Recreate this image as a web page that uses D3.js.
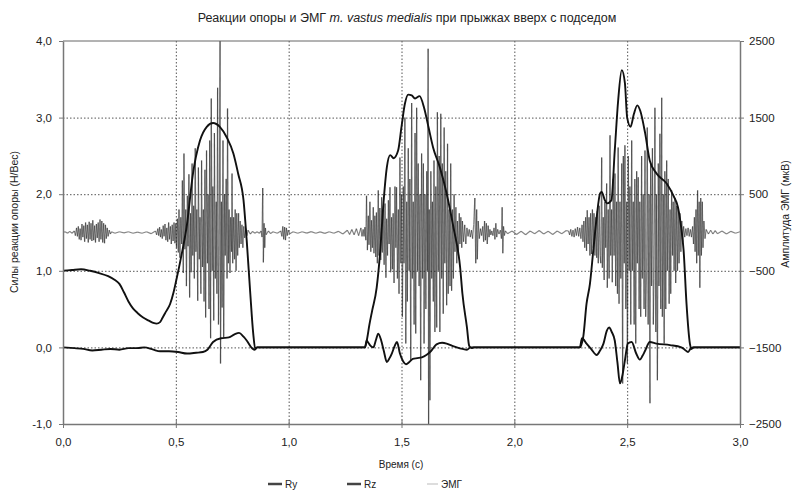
<!DOCTYPE html>
<html>
<head>
<meta charset="utf-8">
<script src="https://cdn.jsdelivr.net/npm/d3@7/dist/d3.min.js"></script>
<style>
  body { margin: 0; background: #fff; }
  text { font-family: "Liberation Sans", Arial, sans-serif; fill: #222; }
</style>
</head>
<body>
<svg id="chart" width="796" height="490"></svg>
<script>
// time (s), force (N/weight)
const ry = [
  [0.00,1.00],[0.04,1.01],[0.08,1.02],[0.12,1.00],[0.16,0.97],[0.20,0.93],[0.23,0.88],[0.25,0.83],
  [0.27,0.72],[0.29,0.60],[0.31,0.51],[0.33,0.45],[0.355,0.39],[0.38,0.35],[0.40,0.32],[0.415,0.31],
  [0.43,0.33],[0.44,0.38],[0.455,0.46],[0.475,0.57],[0.49,0.72],[0.50,0.85],[0.52,1.13],[0.55,1.62],
  [0.575,2.25],[0.607,2.70],[0.637,2.88],[0.665,2.93],[0.695,2.88],[0.726,2.74],[0.755,2.53],
  [0.776,2.27],[0.80,1.92],[0.814,1.40],[0.83,0.70],[0.843,0.18],[0.852,-0.02],[0.86,0.0],
  [1.338,0.0],[1.346,0.09],[1.358,0.30],[1.37,0.48],[1.39,0.78],[1.405,1.23],[1.42,1.88],[1.435,2.35],
  [1.45,2.51],[1.465,2.47],[1.485,2.57],[1.50,2.88],[1.515,3.18],[1.53,3.30],[1.545,3.29],[1.56,3.25],
  [1.58,3.28],[1.60,3.13],[1.62,2.87],[1.64,2.61],[1.67,2.35],[1.70,2.01],[1.73,1.57],[1.76,1.04],
  [1.77,0.70],[1.79,0.26],[1.80,0.02],[1.81,-0.01],[1.82,0.0],
  [2.29,0.0],[2.305,0.13],[2.32,0.57],[2.335,0.83],[2.35,1.27],[2.365,1.70],[2.38,2.01],[2.387,2.03],
  [2.40,1.93],[2.41,1.88],[2.43,1.92],[2.445,2.57],[2.46,3.22],[2.476,3.62],[2.49,3.45],[2.50,3.00],
  [2.515,2.88],[2.53,3.05],[2.545,3.16],[2.558,3.09],[2.58,2.79],[2.60,2.44],[2.63,2.27],[2.675,2.14],
  [2.705,1.98],[2.725,1.83],[2.74,1.55],[2.75,1.27],[2.763,0.57],[2.778,0.05],[2.785,-0.02],[2.795,0.0],
  [3.00,0.0]
];

const rz = [
  [0.00,0.0],[0.05,-0.01],[0.09,-0.02],[0.13,-0.04],[0.17,-0.03],[0.21,-0.02],[0.25,-0.03],[0.29,-0.01],
  [0.33,-0.01],[0.36,0.0],[0.40,-0.03],[0.43,-0.05],[0.47,-0.05],[0.51,-0.06],[0.55,-0.08],[0.59,-0.07],
  [0.62,-0.06],[0.64,-0.03],[0.665,0.07],[0.70,0.12],[0.735,0.13],[0.76,0.17],[0.78,0.19],[0.80,0.14],
  [0.814,0.09],[0.837,-0.01],[0.848,-0.03],[0.86,0.0],
  [1.338,0.0],[1.346,0.09],[1.353,0.06],[1.36,0.03],[1.375,0.0],[1.387,0.10],[1.397,0.18],[1.41,0.09],
  [1.422,-0.05],[1.435,-0.19],[1.447,-0.14],[1.457,-0.08],[1.47,0.02],[1.48,0.07],[1.493,-0.08],
  [1.507,-0.18],[1.52,-0.22],[1.535,-0.19],[1.55,-0.15],[1.57,-0.14],[1.59,-0.13],[1.61,-0.10],
  [1.63,-0.05],[1.655,0.04],[1.68,0.06],[1.70,0.05],[1.725,0.02],[1.745,0.0],[1.77,-0.02],[1.79,-0.03],
  [1.805,0.0],
  [2.29,0.0],[2.30,0.12],[2.32,0.05],[2.34,-0.02],[2.365,-0.10],[2.38,-0.04],[2.395,0.05],[2.41,0.22],
  [2.42,0.26],[2.432,0.20],[2.445,0.09],[2.457,-0.20],[2.468,-0.47],[2.48,-0.35],[2.49,-0.17],
  [2.503,0.05],[2.52,0.07],[2.54,-0.08],[2.556,-0.16],[2.568,-0.11],[2.58,-0.04],[2.60,0.07],[2.63,0.05],
  [2.69,0.03],[2.74,0.0],[2.755,-0.03],[2.77,-0.06],[2.78,-0.02],[2.79,0.0],[3.00,0.0]
];

// time (s), EMG (uV)
const emg = [
  [0,0],[0.01,10],[0.02,-10],[0.03,15],[0.04,-10],[0.05,20],
  [0.055,-40],[0.06,60],[0.064,-50],[0.068,80],[0.072,-90],[0.076,50],[0.08,-100],[0.084,110],[0.088,-60],
  [0.092,90],[0.096,-120],[0.10,130],[0.104,-80],[0.108,100],[0.112,-130],[0.116,140],[0.12,-90],
  [0.124,120],[0.128,-110],[0.132,160],[0.136,-100],[0.14,90],[0.144,-130],[0.148,110],[0.152,-70],
  [0.156,130],[0.16,-120],[0.164,170],[0.168,-90],[0.172,150],[0.176,-130],[0.18,120],[0.184,-140],
  [0.188,100],[0.192,-80],[0.196,60],[0.20,-50],[0.205,30],[0.21,-20],[0.215,10],
  [0.23,-10],[0.25,10],[0.27,-5],[0.29,10],[0.31,-10],[0.33,5],[0.35,-10],[0.37,10],[0.39,-15],[0.41,20],
  [0.415,-30],[0.42,50],[0.424,-40],[0.428,70],[0.432,-60],[0.436,40],[0.44,-80],[0.444,90],[0.448,-50],
  [0.452,110],[0.456,-100],[0.46,60],[0.464,-120],[0.468,130],[0.472,-90],[0.476,80],[0.48,-150],
  [0.484,100],[0.488,-110],[0.492,130],
  [0.496,-140],[0.500,120],[0.503,-200],[0.507,180],[0.511,-260],[0.514,300],[0.518,-330],[0.522,200],
  [0.526,-150],[0.529,680],[0.533,-530],[0.536,1030],[0.540,-220],[0.544,300],[0.547,-700],[0.551,480],
  [0.554,-180],[0.558,760],[0.561,-850],[0.565,250],[0.568,-520],[0.572,900],[0.575,-300],[0.579,350],
  [0.582,-600],[0.586,1100],[0.589,-250],[0.593,300],[0.597,-890],[0.600,850],[0.604,-350],[0.607,200],
  [0.611,-800],[0.614,940],[0.618,-450],[0.622,300],[0.625,-900],[0.629,820],[0.632,-1110],[0.636,1070],
  [0.640,-400],[0.643,500],[0.647,-1000],[0.650,1200],[0.654,-1380],[0.657,1750],[0.661,-500],
  [0.664,600],[0.668,-1150],[0.671,1300],[0.675,-600],[0.679,400],[0.682,-800],[0.685,1890],
  [0.689,-1200],[0.692,-300],[0.696,2600],[0.698,-1710],[0.702,400],[0.705,-980],[0.709,1200],
  [0.712,-1370],[0.716,500],[0.719,-300],[0.723,700],[0.727,-600],[0.729,1620],[0.733,-400],[0.736,300],
  [0.740,-530],[0.743,200],[0.747,-250],[0.749,770],[0.752,-400],[0.756,200],[0.760,-350],[0.763,300],
  [0.767,-500],[0.770,250],[0.774,-300],[0.778,250],[0.781,-200],[0.785,150],[0.789,-150],[0.793,100],
  [0.797,-200],[0.801,80],[0.805,-70],[0.81,50],[0.815,-40],[0.82,30],[0.83,-20],[0.84,15],[0.85,-10],
  [0.86,10],[0.87,-10],[0.878,20],[0.882,-60],[0.885,580],[0.888,-390],[0.891,120],[0.894,-200],
  [0.897,60],[0.90,-30],[0.91,20],[0.92,-15],[0.93,10],[0.95,-10],[0.965,20],[0.97,-50],[0.974,80],
  [0.978,-90],[0.982,70],[0.986,-100],[0.99,60],[0.994,-40],[0.998,30],[1.005,-15],[1.02,10],[1.04,-10],
  [1.06,10],[1.08,-8],[1.10,12],[1.12,-10],[1.14,8],[1.16,-12],[1.18,10],[1.20,-10],[1.22,15],[1.24,-20],
  [1.26,30],[1.27,-25],[1.28,40],[1.29,-30],[1.30,50],[1.31,-40],[1.32,60],[1.325,-50],
  [1.33,40],[1.334,-50],[1.338,70],[1.342,-100],[1.345,480],[1.349,-230],[1.353,220],[1.356,-160],
  [1.360,400],[1.364,-250],[1.367,160],[1.371,-200],[1.375,330],[1.378,-270],[1.382,220],[1.386,-320],
  [1.389,260],[1.393,-400],[1.397,550],[1.400,-300],[1.404,320],[1.408,-360],[1.412,460],[1.415,-260],
  [1.419,300],[1.423,-420],[1.427,380],[1.431,-590],[1.434,180],[1.438,-300],[1.442,420],[1.445,-150],
  [1.449,590],[1.452,-520],[1.456,200],[1.460,-480],[1.463,250],[1.467,-660],[1.471,600],[1.475,-200],
  [1.478,590],[1.482,-600],[1.486,300],[1.489,-800],[1.493,980],[1.497,-400],[1.500,500],[1.504,-1100],
  [1.508,600],[1.511,-400],[1.515,1500],[1.519,-1450],[1.523,400],[1.526,-900],[1.530,1100],[1.534,-500],
  [1.537,700],[1.541,-1670],[1.545,1690],[1.548,-600],[1.552,400],[1.556,-1200],[1.560,1300],
  [1.563,-1320],[1.567,1630],[1.571,-500],[1.574,900],[1.578,-700],[1.582,500],[1.585,-1930],
  [1.589,1030],[1.593,-600],[1.597,900],[1.600,-1450],[1.604,500],[1.608,-1000],[1.612,800],
  [1.615,-500],[1.618,2400],[1.620,-2600],[1.623,300],[1.626,-2190],[1.630,800],[1.634,-600],
  [1.637,400],[1.641,-900],[1.644,940],[1.648,-1300],[1.652,600],[1.656,-1240],[1.659,1570],
  [1.663,-500],[1.667,1000],[1.670,-1300],[1.674,1550],[1.678,-600],[1.681,900],[1.685,-1060],
  [1.689,1370],[1.692,-400],[1.696,800],[1.700,-950],[1.704,1160],[1.707,-800],[1.711,300],[1.715,-700],
  [1.718,900],[1.722,-760],[1.726,300],[1.730,-600],[1.733,500],[1.737,-250],[1.741,330],[1.745,-400],
  [1.748,150],[1.752,-300],[1.756,250],[1.759,-150],[1.763,200],[1.767,-200],[1.770,150],
  [1.775,-120],[1.780,100],[1.785,-150],[1.790,60],[1.795,-50],[1.800,40],[1.805,-60],[1.810,30],
  [1.815,-80],[1.820,100],[1.825,450],[1.829,-400],[1.833,300],[1.836,-350],[1.840,150],[1.845,-80],
  [1.850,50],[1.855,-40],[1.860,80],[1.864,-120],[1.868,150],[1.872,-100],[1.876,120],[1.880,-150],
  [1.884,90],[1.888,-60],[1.892,40],[1.896,-30],[1.900,20],[1.905,-40],[1.910,60],[1.914,-90],
  [1.918,120],[1.922,-60],[1.926,40],[1.932,-20],[1.938,30],[1.943,-80],[1.946,330],[1.949,-270],
  [1.952,80],[1.956,-40],[1.96,20],[1.97,-15],[1.99,20],[2.01,-25],[2.03,15],[2.05,-30],[2.07,20],
  [2.09,-15],[2.11,25],[2.13,-20],[2.15,15],[2.17,-25],[2.19,20],[2.21,-15],[2.23,25],
  [2.240,20],[2.245,-30],[2.250,40],[2.255,-50],[2.260,30],[2.265,-60],[2.270,50],[2.275,-40],[2.280,70],
  [2.285,-50],[2.290,60],[2.295,-80],[2.300,100],[2.304,-120],[2.308,150],[2.312,-200],[2.316,200],
  [2.320,-240],[2.323,290],[2.327,-150],[2.331,200],[2.335,-300],[2.338,250],[2.342,-280],[2.346,300],
  [2.350,-200],[2.353,250],[2.357,-300],[2.361,200],[2.365,-330],[2.368,280],[2.372,-400],[2.376,350],
  [2.380,-300],[2.383,-400],[2.387,980],[2.390,-460],[2.394,200],[2.398,-620],[2.401,400],[2.405,-200],
  [2.409,640],[2.412,-720],[2.416,300],[2.420,-600],[2.424,1270],[2.427,-300],[2.431,300],[2.434,-650],
  [2.438,700],[2.442,-300],[2.446,770],[2.449,-700],[2.453,400],[2.457,-800],[2.460,1110],[2.464,-930],
  [2.468,400],[2.472,-600],[2.476,900],[2.480,-1970],[2.483,1000],[2.487,-400],[2.490,1140],
  [2.494,-1000],[2.498,400],[2.501,-1710],[2.505,1000],[2.509,-500],[2.512,600],[2.516,-1200],
  [2.520,1200],[2.523,-500],[2.527,400],[2.531,-1200],[2.534,700],[2.538,-1450],[2.542,800],
  [2.545,-400],[2.549,720],[2.553,-1000],[2.556,400],[2.560,-1100],[2.564,1000],[2.567,-600],
  [2.571,500],[2.575,-1000],[2.579,1070],[2.582,-1100],[2.586,-500],[2.589,1370],[2.593,-1200],
  [2.597,500],[2.601,-2230],[2.604,900],[2.608,-700],[2.612,1100],[2.616,-1200],[2.619,-600],
  [2.623,1630],[2.627,-1300],[2.630,500],[2.634,-1930],[2.638,900],[2.641,-700],[2.645,1290],
  [2.649,-1000],[2.653,1760],[2.656,-1100],[2.660,500],[2.664,-1450],[2.667,800],[2.671,-1000],
  [2.675,940],[2.678,-500],[2.682,700],[2.686,-930],[2.690,300],[2.693,-800],[2.697,550],[2.701,-300],
  [2.704,400],[2.708,-500],[2.712,450],[2.715,-660],[2.719,350],[2.723,-500],[2.726,330],[2.730,-400],
  [2.734,250],[2.738,-250],[2.742,150],[2.746,-120],[2.750,80],[2.755,-60],[2.760,50],[2.765,-40],
  [2.770,60],[2.775,-50],[2.780,40],[2.785,-60],[2.790,80],[2.794,-150],[2.798,200],[2.801,-250],
  [2.805,300],[2.808,-400],[2.812,550],[2.815,-300],[2.819,400],[2.822,-720],[2.826,450],[2.829,-300],
  [2.833,400],[2.836,-200],[2.840,150],[2.845,-80],[2.850,40],[2.86,-20],[2.87,30],[2.88,-20],
  [2.89,25],[2.90,-15],[2.92,20],[2.94,-20],[2.96,15],[2.98,-10],[3.00,10]
];

const xTicks = [0, 0.5, 1.0, 1.5, 2.0, 2.5, 3.0];
const leftTicks = [-1, 0, 1, 2, 3, 4];
const rightTicks = [-2500, -1500, -500, 500, 1500, 2500];
const legendItems = [
  { name: "Ry", x: 268, w: 14, color: "#444", size: 2.5 },
  { name: "Rz", x: 347, w: 14, color: "#444", size: 2.5 },
  { name: "ЭМГ", x: 427, w: 11, color: "#bbb", size: 1 }
];

const width = 796, height = 490;
const margin = { top: 41, right: 56, bottom: 66, left: 63 };

const svg = d3.select("#chart");

const x = d3.scaleLinear().domain([0, 3]).range([margin.left, width - margin.right]);
const y = d3.scaleLinear().domain([-1, 4]).range([height - margin.bottom, margin.top]);
const y2 = d3.scaleLinear().domain([-2500, 2500]).range(y.range());
const fmt = d => d.toFixed(1).replace(".", ",");

svg.append("defs").append("clipPath").attr("id", "plot-clip")
  .append("rect")
  .attr("x", x(0)).attr("y", y(4))
  .attr("width", x(3) - x(0)).attr("height", y(-1) - y(4));

// dotted grid
const grid = svg.append("g").attr("class", "grid")
  .attr("stroke", "#555").attr("stroke-width", 1).attr("stroke-dasharray", "1.5,2");
grid.selectAll(".v").data(xTicks.slice(1, -1)).join("line")
  .attr("x1", d => x(d) + 0.5).attr("x2", d => x(d) + 0.5)
  .attr("y1", y(4)).attr("y2", y(-1));
grid.selectAll(".h").data(leftTicks.slice(1, -1)).join("line")
  .attr("x1", x(0)).attr("x2", x(3))
  .attr("y1", d => y(d) + 0.5).attr("y2", d => y(d) + 0.5);

const plot = svg.append("g").attr("clip-path", "url(#plot-clip)");

// emg as separate segments so overlaps build up darker, like the scan
plot.append("g")
  .attr("stroke", "#222")
  .attr("stroke-opacity", 0.55)
  .attr("stroke-width", 1.2)
  .selectAll("line")
  .data(d3.pairs(emg))
  .join("line")
  .attr("x1", d => x(d[0][0])).attr("y1", d => y2(d[0][1]))
  .attr("x2", d => x(d[1][0])).attr("y2", d => y2(d[1][1]));

const forceLine = d3.line().x(d => x(d[0])).y(d => y(d[1])).curve(d3.curveMonotoneX);
[rz, ry].forEach(s => {
  plot.append("path")
    .datum(s)
    .attr("fill", "none")
    .attr("stroke", "#111")
    .attr("stroke-width", 1.9)
    .attr("stroke-linejoin", "round")
    .attr("d", forceLine);
});

// frame
svg.append("line")
  .attr("x1", x(0)).attr("x2", x(3)).attr("y1", y(4)).attr("y2", y(4))
  .attr("stroke", "#666").attr("stroke-width", 1);

const styleAxis = g => {
  g.select(".domain").attr("stroke", "#777").attr("stroke-width", 1.5).attr("fill", "none");
  g.selectAll(".tick line").attr("stroke", "#777");
  g.selectAll(".tick text").attr("font-size", 11.5).attr("fill", "#111")
    .attr("font-family", "Liberation Sans, Arial, sans-serif");
};

svg.append("g")
  .attr("transform", `translate(0,${y(-1)})`)
  .call(d3.axisBottom(x).tickValues(xTicks).tickFormat(fmt).tickSize(4).tickSizeOuter(0).tickPadding(10))
  .call(styleAxis)
  .call(g => g.selectAll(".tick line").attr("y1", -4));

svg.append("g")
  .attr("transform", `translate(${x(0)},0)`)
  .call(d3.axisLeft(y).tickValues(leftTicks).tickFormat(fmt).tickSize(4).tickSizeOuter(0).tickPadding(7))
  .call(styleAxis);

svg.append("g")
  .attr("transform", `translate(${x(3)},0)`)
  .call(d3.axisRight(y2).tickValues(rightTicks).tickFormat(d3.format("d")).tickSize(4).tickSizeOuter(0).tickPadding(5))
  .call(styleAxis);

// titles
const title = svg.append("text")
  .attr("x", 407).attr("y", 22)
  .attr("text-anchor", "middle")
  .attr("font-size", 12.5);
title.append("tspan").text("Реакции опоры и ЭМГ ");
title.append("tspan").attr("font-style", "italic").text("m. vastus medialis");
title.append("tspan").text(" при прыжках вверх с подседом");

svg.append("text")
  .attr("x", 401).attr("y", 468)
  .attr("text-anchor", "middle")
  .attr("font-size", 10)
  .text("Время (с)");

svg.append("text")
  .attr("transform", "translate(18,222) rotate(-90)")
  .attr("text-anchor", "middle")
  .attr("font-size", 10.5)
  .text("Силы реакции опоры (Н/Вес)");

svg.append("text")
  .attr("transform", "translate(789,214) rotate(-90)")
  .attr("text-anchor", "middle")
  .attr("font-size", 10.5)
  .text("Амплитуда ЭМГ (мкВ)");

// legend
const legend = svg.append("g").selectAll("g").data(legendItems).join("g");
legend.append("line")
  .attr("x1", d => d.x).attr("x2", d => d.x + d.w)
  .attr("y1", 484).attr("y2", 484)
  .attr("stroke", d => d.color).attr("stroke-width", d => d.size);
legend.append("text")
  .attr("x", d => d.x + d.w + 3).attr("y", 488)
  .attr("font-size", 10)
  .text(d => d.name);
</script>
</body>
</html>
